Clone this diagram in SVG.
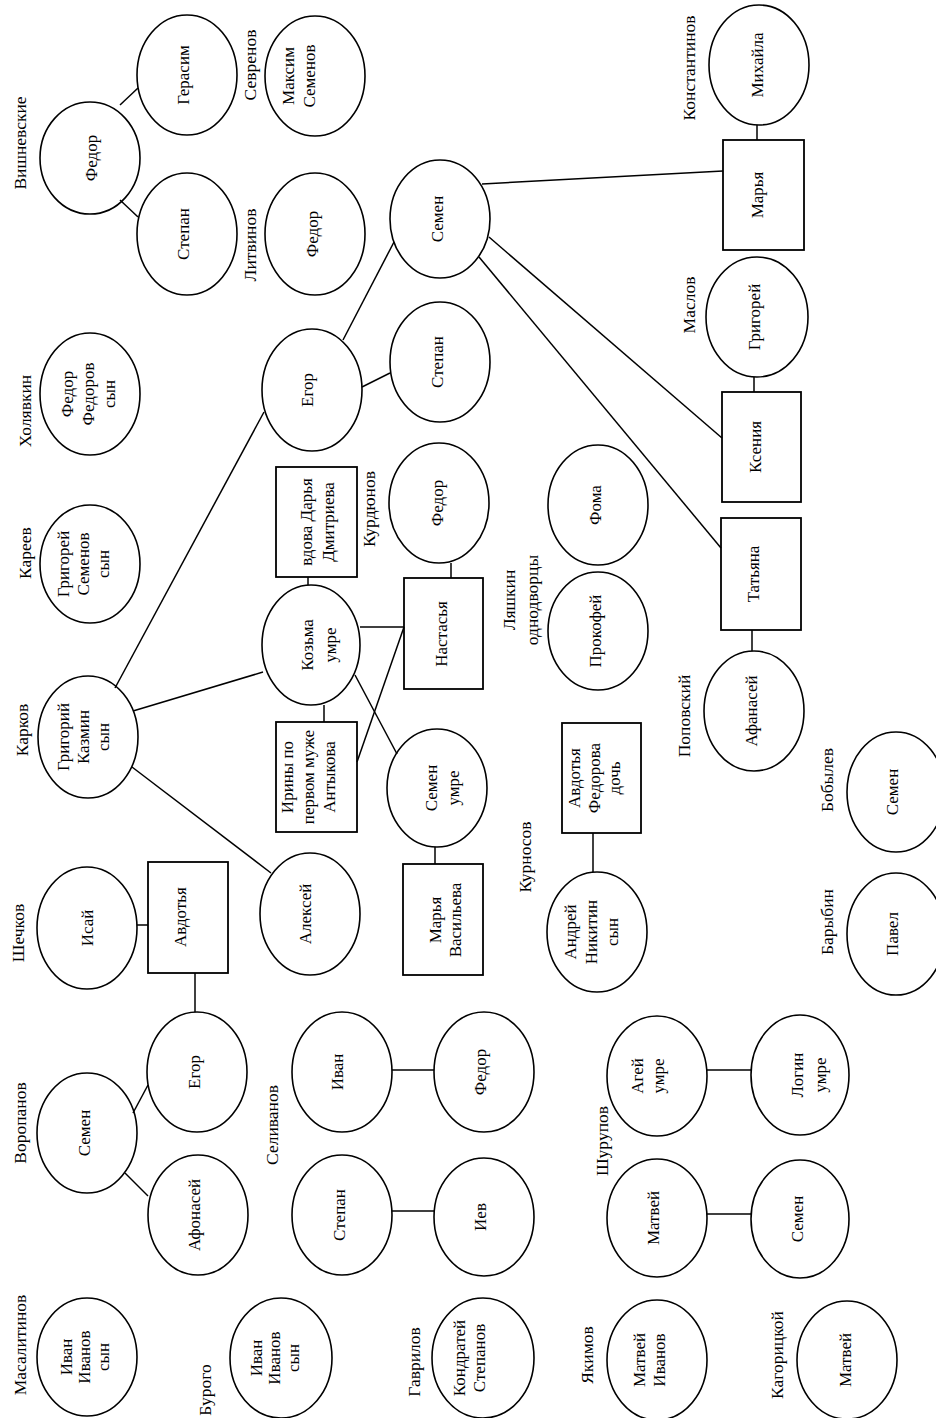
<svg xmlns="http://www.w3.org/2000/svg" width="936" height="1418" viewBox="0 0 936 1418">
<style>
.e{fill:none;stroke:#000;stroke-width:1.6}
.b{fill:none;stroke:#000;stroke-width:1.8}
.c line{stroke:#000;stroke-width:1.5}
text{font-family:"Liberation Serif","Times New Roman",serif;font-size:17px;fill:#000;text-anchor:middle;dominant-baseline:central}
.l{font-size:17.5px}
</style>
<rect width="936" height="1418" fill="#fff"/>
<g id="connectors" class="c">
<line x1="120" y1="105" x2="138" y2="88"/>
<line x1="120" y1="200" x2="138" y2="217"/>
<line x1="482" y1="184" x2="723" y2="171"/>
<line x1="757" y1="125" x2="757" y2="140"/>
<line x1="394" y1="242" x2="343" y2="340"/>
<line x1="489" y1="237" x2="722" y2="438"/>
<line x1="479" y1="257" x2="721" y2="548"/>
<line x1="754" y1="377" x2="754" y2="392"/>
<line x1="752" y1="630" x2="752" y2="651"/>
<line x1="362" y1="387" x2="390" y2="373"/>
<line x1="115" y1="688" x2="264" y2="412"/>
<line x1="133" y1="711" x2="263" y2="672"/>
<line x1="308" y1="577" x2="308" y2="585"/>
<line x1="360" y1="627" x2="404" y2="627"/>
<line x1="451" y1="563" x2="451" y2="578"/>
<line x1="355" y1="675" x2="397" y2="754"/>
<line x1="404" y1="627" x2="357" y2="762"/>
<line x1="324" y1="705" x2="324" y2="722"/>
<line x1="435" y1="847" x2="435" y2="864"/>
<line x1="593" y1="833" x2="593" y2="872"/>
<line x1="132" y1="767" x2="271" y2="873"/>
<line x1="137" y1="925" x2="148" y2="925"/>
<line x1="195" y1="973" x2="195" y2="1012"/>
<line x1="133" y1="1113" x2="148" y2="1085"/>
<line x1="125" y1="1173" x2="148" y2="1196"/>
<line x1="392" y1="1070" x2="434" y2="1070"/>
<line x1="392" y1="1211" x2="434" y2="1211"/>
<line x1="707" y1="1070" x2="751" y2="1070"/>
<line x1="707" y1="1214" x2="751" y2="1214"/>
</g>
<g id="labels">
<text class="l" transform="translate(20,143) rotate(-90)">Вишневские</text>
<text class="l" transform="translate(250,65) rotate(-90)">Севренов</text>
<text class="l" transform="translate(250,245) rotate(-90)">Литвинов</text>
<text class="l" transform="translate(689,68) rotate(-90)">Константинов</text>
<text class="l" transform="translate(689,305) rotate(-90)">Маслов</text>
<text class="l" transform="translate(25,411) rotate(-90)">Холявкин</text>
<text class="l" transform="translate(25,553) rotate(-90)">Кареев</text>
<text class="l" transform="translate(22,730) rotate(-90)">Карков</text>
<text class="l" transform="translate(369,509) rotate(-90)">Курдюнов</text>
<text class="l" transform="translate(520,600) rotate(-90)"><tspan x="0" y="-11.5">Ляшкин</tspan><tspan x="0" y="11.5">однодворцы</tspan></text>
<text class="l" transform="translate(684,716) rotate(-90)">Поповский</text>
<text class="l" transform="translate(18,933) rotate(-90)">Шечков</text>
<text class="l" transform="translate(525,857) rotate(-90)">Курносов</text>
<text class="l" transform="translate(827,780) rotate(-90)">Бобылев</text>
<text class="l" transform="translate(827,922) rotate(-90)">Барыбин</text>
<text class="l" transform="translate(20,1123) rotate(-90)">Воропанов</text>
<text class="l" transform="translate(272,1125) rotate(-90)">Селиванов</text>
<text class="l" transform="translate(602,1141) rotate(-90)">Шурупов</text>
<text class="l" transform="translate(20,1345) rotate(-90)">Масалитинов</text>
<text class="l" transform="translate(205,1390) rotate(-90)">Бурого</text>
<text class="l" transform="translate(414,1362) rotate(-90)">Гаврилов</text>
<text class="l" transform="translate(587,1355) rotate(-90)">Якимов</text>
<text class="l" transform="translate(777,1355) rotate(-90)">Кагорицкой</text>
</g>
<g id="n-fedor-v"><ellipse class="e" cx="90" cy="158" rx="50" ry="56"/><text transform="translate(91,158) rotate(-90)">Федор</text></g>
<g id="n-gerasim"><ellipse class="e" cx="187" cy="75" rx="50" ry="60"/><text transform="translate(183,75) rotate(-90)">Герасим</text></g>
<g id="n-stepan-v"><ellipse class="e" cx="187" cy="234" rx="50" ry="61"/><text transform="translate(183,234) rotate(-90)">Степан</text></g>
<g id="n-maksim"><ellipse class="e" cx="315" cy="76" rx="50" ry="60"/><text transform="translate(298,76) rotate(-90)"><tspan x="0" y="-10.5">Максим</tspan><tspan x="0" y="10.5">Семенов</tspan></text></g>
<g id="n-fedor-l"><ellipse class="e" cx="315" cy="234" rx="50" ry="61"/><text transform="translate(312,234) rotate(-90)">Федор</text></g>
<g id="n-semen-main"><ellipse class="e" cx="440" cy="219" rx="50" ry="59"/><text transform="translate(437,219) rotate(-90)">Семен</text></g>
<g id="n-mihaila"><ellipse class="e" cx="759" cy="65" rx="50" ry="60"/><text transform="translate(757,65) rotate(-90)">Михайла</text></g>
<g id="n-marya"><rect class="b" x="723" y="140" width="81" height="110"/><text transform="translate(757,195) rotate(-90)">Марья</text></g>
<g id="n-grigoriy-m"><ellipse class="e" cx="757" cy="317" rx="51" ry="60"/><text transform="translate(754,317) rotate(-90)">Григорей</text></g>
<g id="n-kseniya"><rect class="b" x="722" y="392" width="79" height="110"/><text transform="translate(755,447) rotate(-90)">Ксения</text></g>
<g id="n-tatyana"><rect class="b" x="721" y="518" width="80" height="112"/><text transform="translate(753,574) rotate(-90)">Татьяна</text></g>
<g id="n-afanasey"><ellipse class="e" cx="754" cy="711" rx="50" ry="60"/><text transform="translate(751,711) rotate(-90)">Афанасей</text></g>
<g id="n-stepan-e"><ellipse class="e" cx="440" cy="362" rx="50" ry="60"/><text transform="translate(437,362) rotate(-90)">Степан</text></g>
<g id="n-egor"><ellipse class="e" cx="312" cy="390" rx="50" ry="61"/><text transform="translate(307,390) rotate(-90)">Егор</text></g>
<g id="n-fedor-h"><ellipse class="e" cx="90" cy="394" rx="50" ry="61"/><text transform="translate(88,394) rotate(-90)"><tspan x="0" y="-21">Федор</tspan><tspan x="0" y="0">Федоров</tspan><tspan x="0" y="21">сын</tspan></text></g>
<g id="n-grigoriy-k"><ellipse class="e" cx="90" cy="564" rx="50" ry="59"/><text transform="translate(83,564) rotate(-90)"><tspan x="0" y="-20">Григорей</tspan><tspan x="0" y="0">Семенов</tspan><tspan x="0" y="20">сын</tspan></text></g>
<g id="n-vdova"><rect class="b" x="276" y="467" width="81" height="110"/><text transform="translate(317,522) rotate(-90)"><tspan x="0" y="-11">вдова Дарья</tspan><tspan x="0" y="11">Дмитриева</tspan></text></g>
<g id="n-fedor-k"><ellipse class="e" cx="439" cy="503" rx="50" ry="60"/><text transform="translate(437,503) rotate(-90)">Федор</text></g>
<g id="n-kozma"><ellipse class="e" cx="311" cy="645" rx="49" ry="60"/><text transform="translate(318,645) rotate(-90)"><tspan x="0" y="-11.5">Козьма</tspan><tspan x="0" y="11.5">умре</tspan></text></g>
<g id="n-nastasya"><rect class="b" x="404" y="578" width="79" height="111"/><text transform="translate(441,634) rotate(-90)">Настасья</text></g>
<g id="n-foma"><ellipse class="e" cx="598" cy="505" rx="50" ry="60"/><text transform="translate(595,505) rotate(-90)">Фома</text></g>
<g id="n-prokofey"><ellipse class="e" cx="598" cy="631" rx="50" ry="59"/><text transform="translate(595,631) rotate(-90)">Прокофей</text></g>
<g id="n-grigoriy-kaz"><ellipse class="e" cx="88" cy="737" rx="50" ry="61"/><text transform="translate(83,737) rotate(-90)"><tspan x="0" y="-20">Григорий</tspan><tspan x="0" y="0">Казмин</tspan><tspan x="0" y="20">сын</tspan></text></g>
<g id="n-iriny"><rect class="b" x="276" y="722" width="81" height="110"/><text transform="translate(308,777) rotate(-90)"><tspan x="0" y="-21">Ирины по</tspan><tspan x="0" y="0">первом муже</tspan><tspan x="0" y="21">Антыкова</tspan></text></g>
<g id="n-semen-u"><ellipse class="e" cx="437" cy="788" rx="50" ry="59"/><text transform="translate(442,788) rotate(-90)"><tspan x="0" y="-11">Семен</tspan><tspan x="0" y="11">умре</tspan></text></g>
<g id="n-marya-v"><rect class="b" x="403" y="864" width="80" height="111"/><text transform="translate(445,920) rotate(-90)"><tspan x="0" y="-10">Марья</tspan><tspan x="0" y="10">Васильева</tspan></text></g>
<g id="n-avdotya-f"><rect class="b" x="562" y="723" width="79" height="110"/><text transform="translate(594,778) rotate(-90)"><tspan x="0" y="-20">Авдотья</tspan><tspan x="0" y="0">Федорова</tspan><tspan x="0" y="20">дочь</tspan></text></g>
<g id="n-andrey"><ellipse class="e" cx="597" cy="932" rx="50" ry="60"/><text transform="translate(591,932) rotate(-90)"><tspan x="0" y="-21">Андрей</tspan><tspan x="0" y="0">Никитин</tspan><tspan x="0" y="21">сын</tspan></text></g>
<g id="n-semen-b"><ellipse class="e" cx="896" cy="792" rx="49" ry="60"/><text transform="translate(892,792) rotate(-90)">Семен</text></g>
<g id="n-pavel"><ellipse class="e" cx="896" cy="934" rx="49" ry="61"/><text transform="translate(892,934) rotate(-90)">Павел</text></g>
<g id="n-isay"><ellipse class="e" cx="87" cy="928" rx="50" ry="61"/><text transform="translate(87,928) rotate(-90)">Исай</text></g>
<g id="n-avdotya"><rect class="b" x="148" y="862" width="80" height="111"/><text transform="translate(180,917) rotate(-90)">Авдотья</text></g>
<g id="n-aleksey"><ellipse class="e" cx="310" cy="914" rx="50" ry="61"/><text transform="translate(305,914) rotate(-90)">Алексей</text></g>
<g id="n-egor-v"><ellipse class="e" cx="197" cy="1072" rx="50" ry="60"/><text transform="translate(194,1072) rotate(-90)">Егор</text></g>
<g id="n-semen-v"><ellipse class="e" cx="87" cy="1133" rx="50" ry="60"/><text transform="translate(84,1133) rotate(-90)">Семен</text></g>
<g id="n-afonasey"><ellipse class="e" cx="198" cy="1215" rx="50" ry="60"/><text transform="translate(194,1215) rotate(-90)">Афонасей</text></g>
<g id="n-ivan-s"><ellipse class="e" cx="342" cy="1072" rx="50" ry="60"/><text transform="translate(337,1072) rotate(-90)">Иван</text></g>
<g id="n-fedor-s"><ellipse class="e" cx="484" cy="1072" rx="50" ry="60"/><text transform="translate(480,1072) rotate(-90)">Федор</text></g>
<g id="n-stepan-s"><ellipse class="e" cx="342" cy="1215" rx="50" ry="60"/><text transform="translate(339,1215) rotate(-90)">Степан</text></g>
<g id="n-iev"><ellipse class="e" cx="484" cy="1217" rx="50" ry="59"/><text transform="translate(480,1217) rotate(-90)">Иев</text></g>
<g id="n-agey"><ellipse class="e" cx="657" cy="1076" rx="50" ry="60"/><text transform="translate(647,1076) rotate(-90)"><tspan x="0" y="-10.5">Агей</tspan><tspan x="0" y="10.5">умре</tspan></text></g>
<g id="n-login"><ellipse class="e" cx="800" cy="1075" rx="49" ry="60"/><text transform="translate(808,1075) rotate(-90)"><tspan x="0" y="-11.5">Логин</tspan><tspan x="0" y="11.5">умре</tspan></text></g>
<g id="n-matvey-sh"><ellipse class="e" cx="657" cy="1218" rx="50" ry="59"/><text transform="translate(653,1218) rotate(-90)">Матвей</text></g>
<g id="n-semen-sh"><ellipse class="e" cx="800" cy="1219" rx="49" ry="59"/><text transform="translate(797,1219) rotate(-90)">Семен</text></g>
<g id="n-ivan-m"><ellipse class="e" cx="87" cy="1357" rx="50" ry="59"/><text transform="translate(84,1357) rotate(-90)"><tspan x="0" y="-18.5">Иван</tspan><tspan x="0" y="0">Иванов</tspan><tspan x="0" y="18.5">сын</tspan></text></g>
<g id="n-ivan-b"><ellipse class="e" cx="281" cy="1358" rx="51" ry="60"/><text transform="translate(274,1358) rotate(-90)"><tspan x="0" y="-18.5">Иван</tspan><tspan x="0" y="0">Иванов</tspan><tspan x="0" y="18.5">сын</tspan></text></g>
<g id="n-kondratey"><ellipse class="e" cx="483" cy="1358" rx="51" ry="60"/><text transform="translate(469,1358) rotate(-90)"><tspan x="0" y="-10">Кондратей</tspan><tspan x="0" y="10">Степанов</tspan></text></g>
<g id="n-matvey-ya"><ellipse class="e" cx="657" cy="1360" rx="50" ry="60"/><text transform="translate(649,1360) rotate(-90)"><tspan x="0" y="-10">Матвей</tspan><tspan x="0" y="10">Иванов</tspan></text></g>
<g id="n-matvey-k"><ellipse class="e" cx="847" cy="1360" rx="50" ry="59"/><text transform="translate(845,1360) rotate(-90)">Матвей</text></g>
</svg>
